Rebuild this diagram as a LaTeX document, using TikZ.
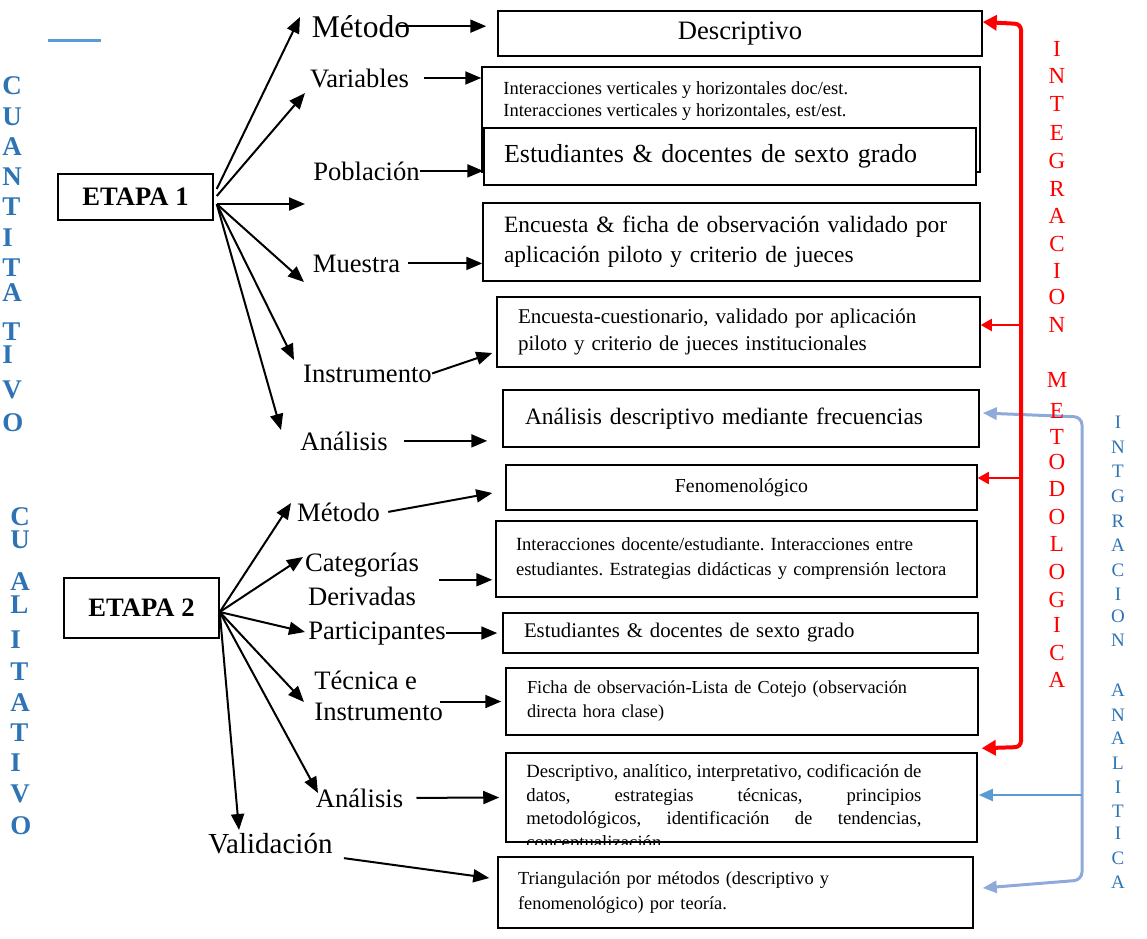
\documentclass[tikz,border=0pt]{standalone}
\usepackage{fontspec}
\setmainfont{Liberation Serif}
\usepackage{tikz}
\usetikzlibrary{arrows.meta}
\usetikzlibrary{positioning}

\definecolor{cuantblue}{HTML}{2E74B5}
\definecolor{lightblue}{HTML}{8EAADB}
\definecolor{midblue}{HTML}{5B9BD5}
\newcommand{\fsz}[2]{\fontsize{#1}{#2}\selectfont}
\frenchspacing

\begin{document}
\begin{tikzpicture}[x=0.5pt,y=-0.5pt,
      box/.style={draw,line width=0.75pt,fill=white,inner sep=0pt},
      tbox/.style={box,align=left,inner xsep=10.5pt},
      lbl/.style={inner sep=0pt,font=\fsz{13.3}{17}},
      arr/.style={-{Triangle[length=8pt,width=6.5pt]},line width=1pt},
      cuanti/.style={inner sep=0pt,text=cuantblue,font=\bfseries\fsz{13.5}{16},anchor=west},
      redtxt/.style={inner sep=0pt,text=red,font=\fsz{11.5}{14}},
      anatxt/.style={inner sep=0pt,text=cuantblue,font=\fsz{9.5}{12}},
      redline/.style={draw=red,line width=2pt,{Triangle[length=7pt,width=7.5pt]}-{Triangle[length=7pt,width=7.5pt]},rounded corners=3pt},
      redthin/.style={draw=red,line width=1pt,-{Triangle[length=5.5pt,width=6pt]}},
      blueline/.style={draw=lightblue,line width=1.5pt,{Triangle[length=7pt,width=6pt]}-{Triangle[length=7pt,width=6pt]},rounded corners=4pt},
      bluethin/.style={draw=midblue,line width=1pt,-{Triangle[length=7pt,width=6pt]}},
    ]
    \useasboundingbox (0,0) rectangle (1147,938);

    \draw[midblue,line width=1.5pt] (48,40) -- (101,40);
    \foreach \l/\y [count=\i] in {C/86,U/117,A/147,N/177,T/207,I/238,T/268,A/293,T/332,I/355,V/390,O/423}
        \node[cuanti] (cn\i) at (2,\y) {\l};
    \foreach \l/\y [count=\i] in {C/517,U/540,A/582,L/605,I/640,T/672,A/703,T/733,I/763,V/794,O/826}
        \node[cuanti] (cl\i) at (10,\y) {\l};

    \node[box,font=\bfseries\fsz{13.3}{16},minimum width=77.5pt,minimum height=23pt] (e1) at (135.5,197) {ETAPA 1};
    \node[box,font=\bfseries\fsz{13.3}{16},minimum width=77.5pt,minimum height=30pt] (e2) at (141.5,608) {ETAPA 2};

    \node[lbl,font=\fsz{15.8}{19},anchor=base] (met1) at (361,37) {Método};
    \node[lbl,anchor=base] (var1) at (359.5,87) {Variables};
    \node[lbl,anchor=base] (pob1) at (366.5,180) {Población};
    \node[lbl,anchor=base] (mue1) at (356.5,272) {Muestra};
    \node[lbl,anchor=base] (ins1) at (367.5,382) {Instrumento};
    \node[lbl,anchor=base] (ana1) at (344,450) {Análisis};
    \node[lbl,anchor=base] (met2) at (338.5,521) {Método};
    \node[lbl,align=center,anchor=north] (cat2) at (362,553) {Categorías\\Derivadas};
    \node[lbl,anchor=base] (par2) at (377,639) {Participantes};
    \node[lbl,align=left,anchor=north west,font=\fsz{13.3}{15.5}] (tec2) at (314,671) {Técnica e\\Instrumento};
    \node[lbl,anchor=base] (ana2) at (359.5,807) {Análisis};
    \node[lbl,font=\fsz{14.5}{17},anchor=base] (val2) at (270.5,853) {Validación};

    \node[box,font=\fsz{13.3}{16},minimum width=242pt,minimum height=22.5pt] (desc) at (740,33.5) {Descriptivo};
    \node[box,minimum width=249pt,minimum height=52.5pt] (vars) at (731,119.5) {};
    \node[inner sep=0pt,align=left,anchor=north west,font=\fsz{9.25}{11}] (varstx) at (503,81) {Interacciones verticales y horizontales doc/est.\\Interacciones verticales y horizontales, est/est.};
    \node[tbox,inner xsep=10pt,text width=226pt,minimum height=28.5pt,font=\fsz{13}{16}] (pobl) at (730,156.5) {Estudiantes \& docentes de sexto grado};
    \node[tbox,text width=227.5pt,minimum height=39pt,font=\fsz{11.7}{15}] (muest) at (731.5,242) {Encuesta \& ficha de observación validado por\\aplicación piloto y criterio de jueces};
    \node[tbox,text width=220.5pt,minimum height=35pt,font=\fsz{10.5}{13.5}] (instr) at (738.5,332) {Encuesta-cuestionario, validado por aplicación\\piloto y criterio de jueces institucionales};
    \node[tbox,inner xsep=11pt,text width=216pt,minimum height=28.5pt,font=\fsz{11.75}{14}] (anal) at (741,418.5) {Análisis descriptivo mediante frecuencias};
    \node[box,font=\fsz{9.9}{12},minimum width=235.5pt,minimum height=22.5pt] (feno) at (741.5,487.5) {Fenomenológico};
    \node[tbox,inner xsep=10pt,text width=220.5pt,minimum height=38pt,font=\fsz{9.3}{12.5}] (cate) at (736.5,559) {Interacciones docente/estudiante. Interacciones entre\\estudiantes. Estrategias didácticas y comprensión lectora};
    \node[tbox,text width=216.5pt,minimum height=20pt,font=\fsz{10.4}{13}] (part) at (740.5,633) {Estudiantes \& docentes de sexto grado};
    \node[tbox,text width=215pt,minimum height=33.5pt,font=\fsz{9.15}{12}] (tecn) at (742,701.5) {Ficha de observación-Lista de Cotejo (observación\\directa hora clase)};
    \begin{scope}
        \clip (506,753) rectangle (977,844.5);
        \node[inner sep=0pt,text width=197.5pt,align=justify,anchor=north west,font=\fsz{9.35}{11.75}] (anal2tx) at (526,764) {Descriptivo, analítico, interpretativo, codificación de\linebreak datos, estrategias técnicas, principios\linebreak metodológicos, identificación de tendencias,\linebreak conceptualización};
    \end{scope}
    \node[box,fill=none,minimum width=235.5pt,minimum height=44.5pt] (anal2) at (741.5,797.5) {};
    \node[tbox,inner xsep=10pt,text width=217.5pt,minimum height=35.5pt,font=\fsz{9.2}{12.5}] (vali) at (735.5,892.5) {Triangulación por métodos (descriptivo y\\fenomenológico) por teoría.};

    \foreach \n/\x/\y/\s in {a/300/17/-8,b/305/93/-1,c/305/204/7,d/304/282/7,e/294/360/7,f/281/430/7}{
        \coordinate (f1\n) at (\x,\y);
        \draw[arr] ([shift={(3,\s)}]e1.east) -- (f1\n);
    }
    \foreach \n/\x/\y in {a/291/503,b/303/557,c/305/632,d/304/702,e/318/793,f/239/830}{
        \coordinate (f2\n) at (\x,\y);
        \draw[arr] ([shift={(0,4)}]e2.east) -- (f2\n);
    }

    \draw[arr] ([xshift=-6pt]met1.east) -- ([xshift=-5.5pt]desc.west |- met1.east);
    \draw[arr] ([xshift=7.5pt]var1.east) -- (vars.west |- var1.east);
    \draw[arr] (pob1.east) -- (pobl.west |- pob1.east);
    \draw[arr] ([xshift=4pt]mue1.east) -- (muest.west |- mue1.east);
    \draw[arr] (ins1.east) -- ([shift={(-4,21)}]instr.west);
    \draw[arr] ([xshift=8pt]ana1.east) -- ([xshift=-7.5pt]anal.west |- ana1.east);
    \draw[arr] ([xshift=4pt]met2.east) -- ([shift={(-13,5.5)}]feno.west);
    \draw[arr] ([xshift=10pt]cat2.east) -- ([xshift=-1.5pt]cate.west |- cat2.east);
    \draw[arr] (par2.east) -- ([xshift=-2.5pt]part.west |- par2.east);
    \draw[arr] ([xshift=-1.5pt]tec2.east |- tecn.west) -- ([xshift=-2pt]tecn.west);
    \draw[arr] ([xshift=6.5pt]ana2.east) -- ([xshift=-3pt]anal2.west);
    \draw[arr] ([shift={(11,15)}]val2.east) -- ([shift={(-8,-14.5)}]vali.west);

    \coordinate (btop) at (1082,417);
    \coordinate (bbot) at (1082,880);
    \coordinate (bm) at ([shift={(1,-2.5)}]anal2.east);
    \draw[blueline] ([shift={(3,-5.5)}]anal.east) -- (btop) -- (bbot) -- ([shift={(9,-4.5)}]vali.east);
    \draw[bluethin] (btop |- bm) -- (bm);

    \coordinate (rtop) at (1021,24);
    \coordinate (rbot) at (1021,747);
    \coordinate (ri) at ([yshift=3.5pt]instr.east);
    \coordinate (rf) at ([yshift=4.75pt]feno.east);
    \draw[redline] ([yshift=5.75pt]desc.east) -- (rtop) -- (rbot) -- ([shift={(4,-4)}]anal2.north east);
    \draw[redthin] (rtop |- ri) -- (ri);
    \draw[redthin] (rtop |- rf) -- (rf);

    \foreach \l/\y [count=\i] in {I/49,N/76,T/104,E/133,G/161,R/189,A/216,C/244,I/271,O/297,N/325,M/380,E/411,T/437,O/462,D/489,O/517,L/544,O/572,G/600,I/625,C/653,A/680}
        \node[redtxt] (im\i) at (1057,\y) {\l};
    \foreach \l/\y [count=\i] in {I/422,N/447,T/471,G/496,R/521,A/545,C/570,I/594,O/616,N/640,A/690,N/715,A/738,L/763,I/787,T/811,I/833,C/858,A/882}
        \node[anatxt] (ia\i) at (1118,\y) {\l};
\end{tikzpicture}
\end{document}
